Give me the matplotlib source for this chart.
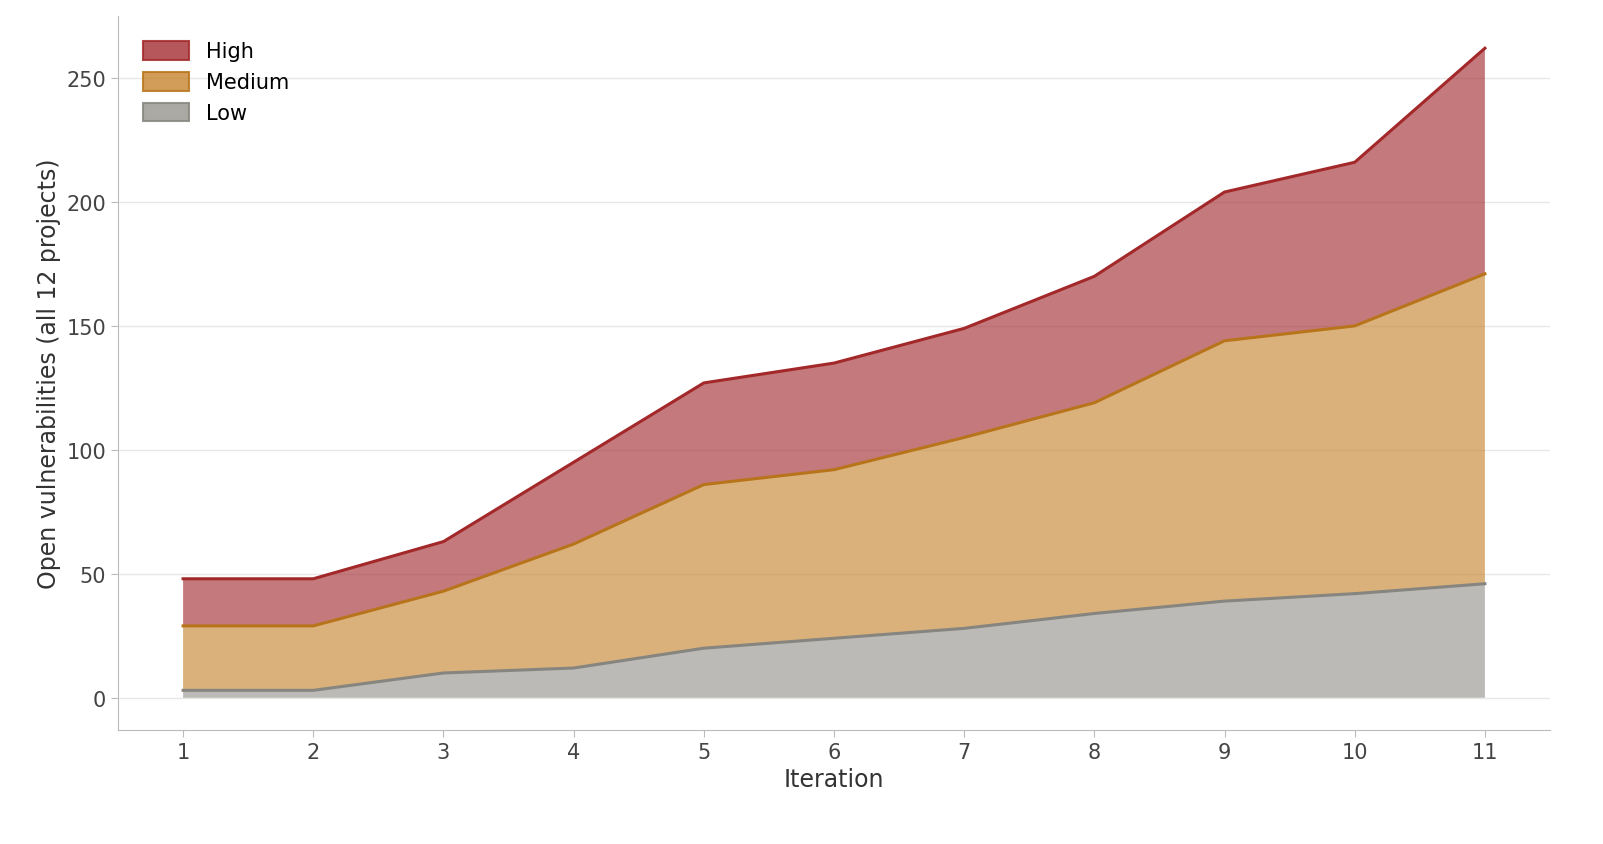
import matplotlib
matplotlib.use("Agg")
import matplotlib.pyplot as plt
import numpy as np

iterations = [1, 2, 3, 4, 5, 6, 7, 8, 9, 10, 11]
low = [3, 3, 10, 12, 20, 24, 28, 34, 39, 42, 46]
medium = [26, 26, 33, 50, 66, 68, 77, 85, 105, 108, 125]
high = [19, 19, 20, 33, 41, 43, 44, 51, 60, 66, 91]

fig = plt.figure(figsize=(16.03, 8.45), dpi=100)
ax = fig.add_axes([118/1603, 1-731/845, (1550-118)/1603, (731-17)/845])

fills = ['#9c9a94', '#c98c3c', '#a83a3e']
lines = ['#87857f', '#b8741a', '#a3282a']
stack = ax.stackplot(iterations, low, medium, high, colors=fills, alpha=0.68,
                     linewidth=0)
cum = np.cumsum([low, medium, high], axis=0)
for c, lc in zip(cum, lines):
    ax.plot(iterations, c, color=lc, lw=2.2)

from matplotlib.patches import Patch
handles = [Patch(facecolor=f, edgecolor=l, alpha=0.85, lw=1.5) for f, l in zip(fills, lines)][::-1]
ax.legend(handles, ['High', 'Medium', 'Low'], loc='upper left', frameon=False,
          fontsize=15, handlelength=2.2, handleheight=1.0, borderaxespad=0.8)

ax.set_xlim(0.5, 11.5)
ax.set_ylim(-13, 275)
ax.set_xticks(iterations)
ax.set_yticks([0, 50, 100, 150, 200, 250])
ax.grid(axis='y', color='#e8e8e8', lw=1)
ax.set_axisbelow(True)
for s in ['top', 'right']:
    ax.spines[s].set_visible(False)
for s in ['left', 'bottom']:
    ax.spines[s].set_color('#bbbbbb')
ax.tick_params(colors='#bbbbbb', labelcolor='#444444', labelsize=15, length=5)
ax.set_xlabel('Iteration', fontsize=17, color='#333333')
ax.set_ylabel('Open vulnerabilities (all 12 projects)', fontsize=17, color='#333333')
fig.savefig('out.png', dpi=100)
